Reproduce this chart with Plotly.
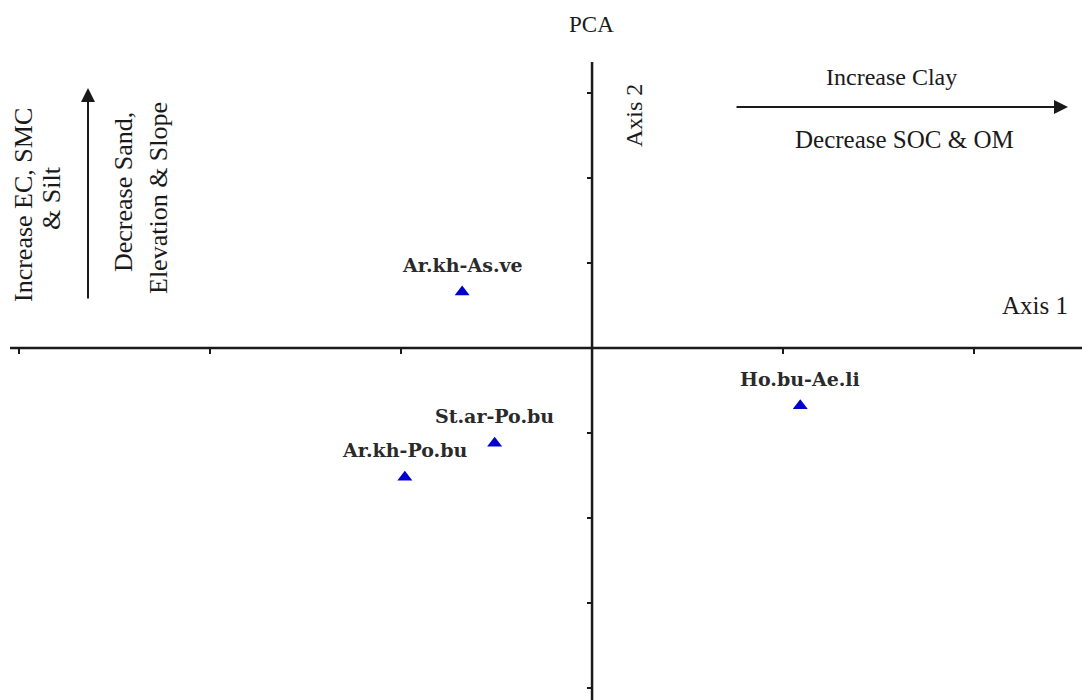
import plotly.graph_objects as go

# ---- data ----
site_labels = ["Ar.kh-As.ve", "St.ar-Po.bu", "Ar.kh-Po.bu", "Ho.bu-Ae.li"]
axis1_scores = [-0.68, -0.51, -0.98, 1.09]
axis2_scores = [0.66, -1.12, -1.52, -0.68]
x_ticks = [-3, -2, -1, 1, 2]
y_ticks = [-4, -3, -2, -1, 1, 2, 3]

W, H = 1082, 700
X_RANGE = [-3.0995, 2.565]
Y_RANGE = [-4.141, 4.094]
INK = "#1a1a1a"
SERIF = "Liberation Serif, Times New Roman, serif"
LABEL_FONT = "DejaVu Serif, serif"


def px(x):
    return x / W


def py(y):
    return 1 - y / H


fig = go.Figure()

fig.add_trace(go.Scatter(
    x=axis1_scores, y=axis2_scores, mode="markers",
    marker=dict(symbol="triangle-up", size=13, color="#0000cc"),
    hoverinfo="skip", showlegend=False,
))

annotations = []
for lab, xv, yv in zip(site_labels, axis1_scores, axis2_scores):
    annotations.append(dict(
        x=xv, y=yv, xref="x", yref="y", text=lab, showarrow=False,
        yshift=27, font=dict(family=LABEL_FONT, size=19, color="#2a2a2a", weight="bold"),
    ))


def txt(text, x, y, size, angle=0):
    return dict(x=px(x), y=py(y), xref="paper", yref="paper", text=text,
                showarrow=False, textangle=angle, xanchor="center", yanchor="middle",
                font=dict(family=SERIF, size=size, color=INK))


annotations += [
    txt("PCA", 591, 25, 23),
    txt("Increase Clay", 891, 77, 24),
    txt("Decrease SOC &amp; OM", 904, 140, 25),
    txt("Axis 1", 1035, 305, 25),
    txt("Axis 2", 634, 116, 24, -90),
    txt("Increase EC, SMC", 23, 205, 26, -90),
    txt("&amp; Silt", 51, 198, 26, -90),
    txt("Decrease Sand,", 124, 192, 26, -90),
    txt("Elevation &amp; Slope", 158, 198, 26, -90),
]

# direction arrows
annotations.append(dict(
    x=px(1068), y=py(107), xref="paper", yref="paper", ax=-333, ay=0,
    axref="pixel", ayref="pixel", showarrow=True, arrowhead=2, arrowsize=1.4,
    arrowwidth=2, arrowcolor=INK, text="",
))
annotations.append(dict(
    x=px(88), y=py(88), xref="paper", yref="paper", ax=0, ay=212,
    axref="pixel", ayref="pixel", showarrow=True, arrowhead=2, arrowsize=1.4,
    arrowwidth=2, arrowcolor=INK, text="",
))

shapes = [
    # horizontal axis line
    dict(type="line", xref="paper", yref="y", x0=px(10), x1=1, y0=0, y1=0,
         line=dict(color=INK, width=2.5)),
    # vertical axis line
    dict(type="line", xref="x", yref="paper", x0=0, x1=0, y0=py(62), y1=0,
         line=dict(color=INK, width=2.5)),
]

fig.update_layout(
    width=W, height=H,
    margin=dict(l=0, r=0, t=0, b=0),
    paper_bgcolor="white", plot_bgcolor="white",
    xaxis=dict(range=X_RANGE, showgrid=False, zeroline=False, showline=False,
               anchor="free", position=py(348), tickmode="array", tickvals=x_ticks,
               ticks="outside", ticklen=5, tickwidth=2, tickcolor=INK,
               showticklabels=False, fixedrange=True),
    yaxis=dict(range=Y_RANGE, showgrid=False, zeroline=False, showline=False,
               anchor="free", position=px(592), tickmode="array", tickvals=y_ticks,
               ticks="outside", ticklen=5, tickwidth=2, tickcolor=INK,
               showticklabels=False, fixedrange=True),
    annotations=annotations,
    shapes=shapes,
    showlegend=False,
)

fig.write_html("out.html", config={"displayModeBar": False},
               post_script="document.body.style.margin='0';document.body.style.overflow='hidden';")
